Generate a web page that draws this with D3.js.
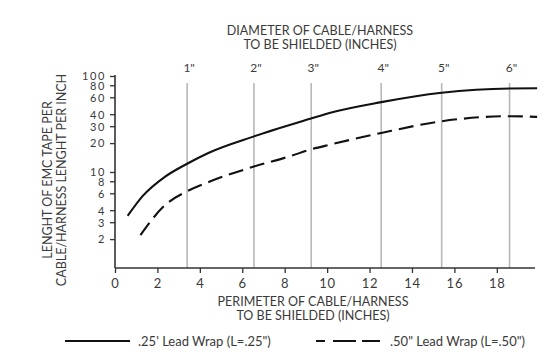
<!DOCTYPE html>
<html>
<head>
<meta charset="utf-8">
<script src="https://cdn.jsdelivr.net/npm/d3@7/dist/d3.min.js"></script>
<style>
  html, body { margin: 0; padding: 0; background: #fff; }
  svg { display: block; }
  text { font-family: Lato, "Open Sans", sans-serif; fill: #3a3a3a; }
</style>
</head>
<body>
<svg id="chart" width="554" height="360"></svg>
<script>
// ---- data ----
const leadWrap25X = [0.6, 1.3, 2.35, 3.4, 4.4, 6.55, 9.2, 10.15, 12.55, 15.4, 18.6, 19.9];
const leadWrap25Y = [3.5, 5.6, 8.9, 12.2, 15.8, 23.5, 35.8, 41.4, 53.4, 66.9, 74.2, 74.5];
const leadWrap50X = [1.2, 2.35, 3.4, 4.5, 6.55, 8.25, 9.2, 10.15, 12.55, 15.4, 18.6, 19.9];
const leadWrap50Y = [2.2, 4.5, 6.3, 8.0, 11.4, 14.6, 17.1, 19.3, 25.5, 33.8, 38.1, 37.5];
const diameterLabels = ['1"', '2"', '3"', '4"', '5"', '6"'];
const diameterPerimeters = [3.4, 6.55, 9.25, 12.55, 15.4, 18.6];
const xTicks = [0, 2, 4, 6, 8, 10, 12, 14, 16, 18];
const yTicks = [2, 3, 4, 6, 8, 10, 20, 30, 40, 60, 80, 100];
const seriesNames = ['.25\' Lead Wrap (L=.25")', '.50" Lead Wrap (L=.50")'];

const svg = d3.select('#chart');
const x = d3.scaleLinear().domain([0, 19.8]).range([115, 535]);
const y = d3.scaleLog().domain([1, 100]).range([268, 76]);
const axisColor = '#333';

// diameter reference lines
svg.append('g').selectAll('line').data(diameterPerimeters).join('line')
  .attr('x1', d => x(d)).attr('x2', d => x(d))
  .attr('y1', 83).attr('y2', 268)
  .attr('stroke', '#b8b8b8').attr('stroke-width', 1.6);
svg.append('g').selectAll('text').data(diameterLabels).join('text')
  .attr('x', (d, i) => x(diameterPerimeters[i]) + 2).attr('y', 72)
  .attr('text-anchor', 'middle').attr('font-size', 12).text(d => d);

// axes
const xAxis = svg.append('g').attr('transform', 'translate(0,268)')
  .call(d3.axisBottom(x).tickValues(xTicks).tickSize(5).tickPadding(6).tickFormat(d3.format('d')));
const yAxis = svg.append('g').attr('transform', 'translate(115,0)')
  .call(d3.axisLeft(y).tickValues(yTicks).tickSize(5).tickPadding(4).tickFormat(d3.format('d')));
[xAxis, yAxis].forEach(g => {
  g.select('.domain').attr('stroke', axisColor).attr('stroke-width', 1.6);
  g.selectAll('.tick line').attr('stroke', axisColor).attr('stroke-width', 1.3);
  g.selectAll('.tick text').attr('font-family', 'Lato, sans-serif')
    .attr('fill', '#3a3a3a');
});
xAxis.selectAll('.tick text').attr('font-size', 13).attr('letter-spacing', 0.8);
yAxis.selectAll('.tick text').attr('font-size', 11).attr('letter-spacing', 1.6);
xAxis.select('.domain').attr('d', `M${x(0)},0H${x(19.8)}`);
yAxis.select('.domain').attr('d', `M0,${y(100) - 1}V${y(1)}`);
yAxis.selectAll('.tick text').attr('dy', '0.35em');

// lines
const line = d3.line().x(d => x(d[0])).y(d => y(d[1])).curve(d3.curveMonotoneX);
svg.append('path').datum(d3.zip(leadWrap25X, leadWrap25Y))
  .attr('d', line).attr('fill', 'none').attr('stroke', '#111').attr('stroke-width', 2.1);
svg.append('path').datum(d3.zip(leadWrap50X, leadWrap50Y))
  .attr('d', line).attr('fill', 'none').attr('stroke', '#111').attr('stroke-width', 2.1)
  .attr('stroke-dasharray', '15,7');

// titles
const title = svg.append('text').attr('text-anchor', 'middle').attr('font-size', 12.5);
title.append('tspan').attr('x', 320).attr('y', 35).text('DIAMETER OF CABLE/HARNESS');
title.append('tspan').attr('x', 320).attr('y', 49).text('TO BE SHIELDED (INCHES)');

const xl = svg.append('text').attr('text-anchor', 'middle').attr('font-size', 12.5);
xl.append('tspan').attr('x', 313).attr('y', 306).text('PERIMETER OF CABLE/HARNESS');
xl.append('tspan').attr('x', 313).attr('y', 320).text('TO BE SHIELDED (INCHES)');

const yl = svg.append('text').attr('text-anchor', 'middle').attr('font-size', 12.5)
  .attr('transform', 'translate(0,180) rotate(-90)');
yl.append('tspan').attr('x', 0).attr('y', 52).text('LENGHT OF EMC TAPE PER');
yl.append('tspan').attr('x', 0).attr('y', 66).text('CABLE/HARNESS LENGHT PER INCH');

// legend
svg.append('line').attr('x1', 65).attr('x2', 130).attr('y1', 341).attr('y2', 341)
  .attr('stroke', '#111').attr('stroke-width', 2.1);
svg.append('text').attr('x', 138).attr('y', 345.5).attr('font-size', 13).text(seriesNames[0]);
svg.append('line').attr('x1', 316).attr('x2', 380).attr('y1', 341).attr('y2', 341)
  .attr('stroke', '#111').attr('stroke-width', 2.1)
  .attr('stroke-dasharray', '9,8,23,6,18');
svg.append('text').attr('x', 390).attr('y', 345.5).attr('font-size', 13).text(seriesNames[1]);
</script>
</body>
</html>
